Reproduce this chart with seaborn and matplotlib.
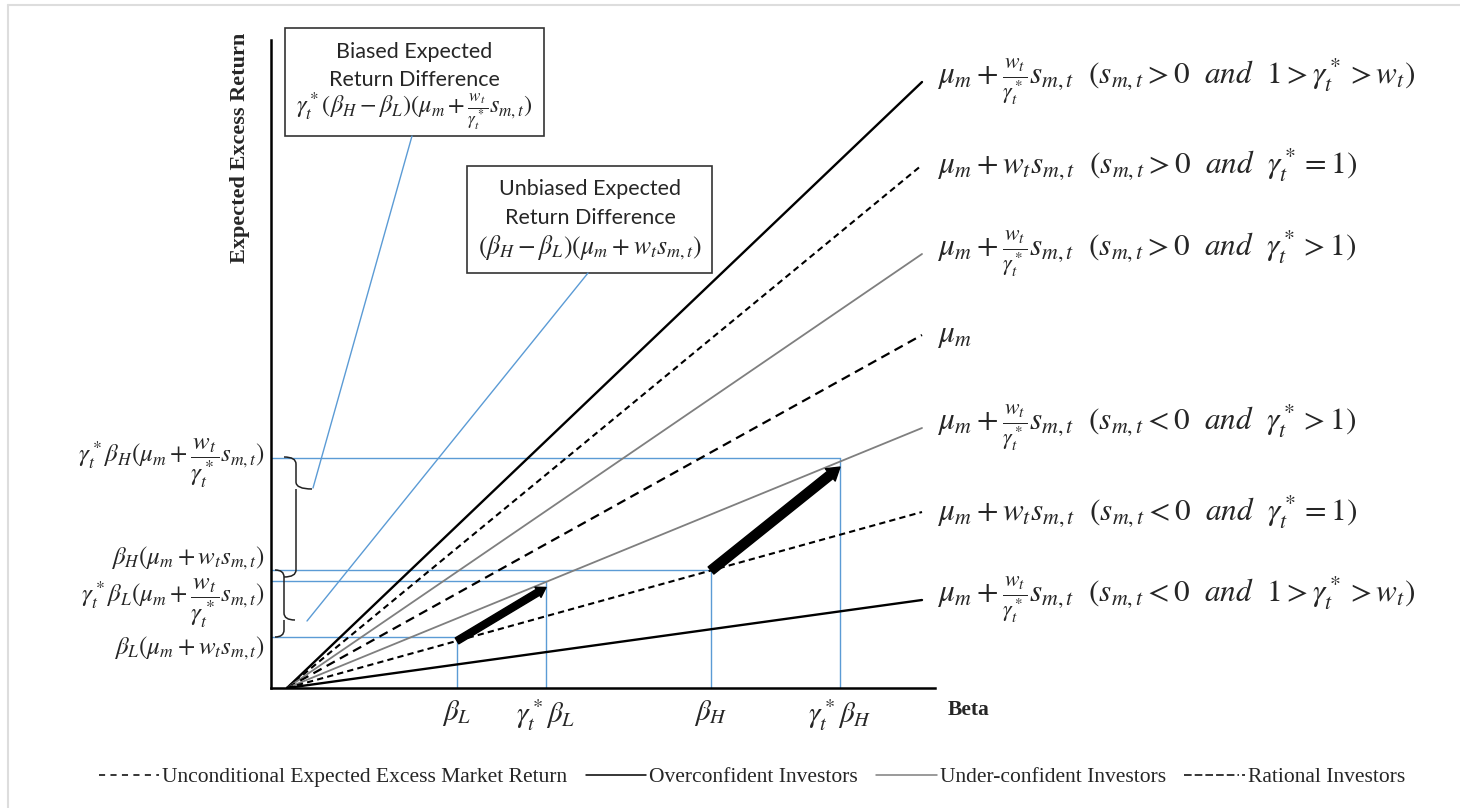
import numpy as np
import pandas as pd
import seaborn as sns
import matplotlib.pyplot as plt
from matplotlib.lines import Line2D
from matplotlib.patches import Rectangle, PathPatch
from matplotlib.path import Path

# === DATA (beta / return units) ===
line_names = ['over_pos', 'rat_pos', 'under_pos', 'mu', 'under_neg', 'rat_neg', 'over_neg']
line_kind = ['Overconfident', 'Rational', 'Under-confident', 'Unconditional',
             'Under-confident', 'Rational', 'Overconfident']
line_end = [6.06, 5.23, 4.34, 3.53, 2.60, 1.76, 0.88]
beta_end = 6.35

beta_names = ['bL', 'gbL', 'bH', 'gbH']
beta_vals = [1.70, 2.59, 4.24, 5.53]
beta_ticks = [r'$\beta_L$', r'$\gamma_t^*\beta_L$', r'$\beta_H$', r'$\gamma_t^*\beta_H$']
level_vals = [0.51, 1.07, 1.18, 2.30]   # return levels for bL, gbL, bH, gbH

right_labels = [
    r'$\mu_m+\frac{w_t}{\gamma_t^*}s_{m,t}\ \ (s_{m,t}>0\ \ and\ \ 1>\gamma_t^*>w_t)$',
    r'$\mu_m+w_t s_{m,t}\ \ (s_{m,t}>0\ \ and\ \ \gamma_t^*=1)$',
    r'$\mu_m+\frac{w_t}{\gamma_t^*}s_{m,t}\ \ (s_{m,t}>0\ \ and\ \ \gamma_t^*>1)$',
    r'$\mu_m$',
    r'$\mu_m+\frac{w_t}{\gamma_t^*}s_{m,t}\ \ (s_{m,t}<0\ \ and\ \ \gamma_t^*>1)$',
    r'$\mu_m+w_t s_{m,t}\ \ (s_{m,t}<0\ \ and\ \ \gamma_t^*=1)$',
    r'$\mu_m+\frac{w_t}{\gamma_t^*}s_{m,t}\ \ (s_{m,t}<0\ \ and\ \ 1>\gamma_t^*>w_t)$',
]
left_labels = [
    r'$\beta_L(\mu_m+w_t s_{m,t})$',
    r'$\gamma_t^*\beta_L(\mu_m+\dfrac{w_t}{\gamma_t^*}s_{m,t})$',
    r'$\beta_H(\mu_m+w_t s_{m,t})$',
    r'$\gamma_t^*\beta_H(\mu_m+\dfrac{w_t}{\gamma_t^*}s_{m,t})$',
]
left_label_y = [0.40, 0.85, 1.30, 2.25]

legend_kinds = ['Unconditional', 'Overconfident', 'Under-confident', 'Rational']
legend_labels = ['Unconditional Expected Excess Market Return', 'Overconfident Investors',
                 'Under-confident Investors', 'Rational Investors']

# === STYLE ===
sns.set_style('white')
plt.rcParams['font.family'] = ['Liberation Serif', 'DejaVu Serif']
plt.rcParams['mathtext.fontset'] = 'stix'

kind_color = {'Overconfident': 'black', 'Rational': 'black',
              'Under-confident': '#7f7f7f', 'Unconditional': 'black'}
kind_dash = {'Overconfident': '', 'Rational': (3, 2),
             'Under-confident': '', 'Unconditional': (4.2, 2.6)}
kind_lw = {'Overconfident': 1.7, 'Rational': 1.5,
           'Under-confident': 1.3, 'Unconditional': 1.6}
legend_ls = {'Overconfident': '-', 'Under-confident': '-',
             'Unconditional': (0, (4, 3.5)), 'Rational': (0, (5, 2, 5, 2, 5, 2, 5, 2, 5, 2, 1, 2))}
blue = '#5b9bd5'

rows = []
for name, end in zip(line_names, line_end):
    rows.append({'line': name, 'beta': 0.0, 'ret': 0.0})
    rows.append({'line': name, 'beta': beta_end, 'ret': end})
df = pd.DataFrame(rows)
kind_of = dict(zip(line_names, line_kind))

fig = plt.figure(figsize=(14.6, 8.08), dpi=100)
ax = fig.add_axes([271 / 1460, 120 / 808, 664 / 1460, 648 / 808])

sns.lineplot(data=df, x='beta', y='ret', hue='line', style='line', size='line',
             palette={n: kind_color[kind_of[n]] for n in line_names},
             dashes={n: kind_dash[kind_of[n]] for n in line_names},
             sizes={n: kind_lw[kind_of[n]] for n in line_names},
             estimator=None, sort=False, legend=False, ax=ax)

ax.set_xlim(-0.16, 6.48)
ax.set_ylim(0, 6.48)
sns.despine(ax=ax)
for s in ['left', 'bottom']:
    ax.spines[s].set_linewidth(1.8)
    ax.spines[s].set_color('black')
ax.set_xlabel('')
ax.set_ylabel('')
ax.set_yticks([])
ax.set_xticks(beta_vals)
ax.set_xticklabels(beta_ticks, fontsize=21)
ax.tick_params(axis='x', length=0, pad=7)

# guide lines
lev = dict(zip(beta_names, level_vals))
bet = dict(zip(beta_names, beta_vals))
for b in beta_names:
    ax.plot([-0.16, bet[b]], [lev[b], lev[b]], color=blue, lw=1.0, zorder=1)
    ax.plot([bet[b], bet[b]], [0, lev[b]], color=blue, lw=1.0, zorder=1)

# arrows from rational to under-confident (s<0)
slope = dict(zip(line_names, np.array(line_end) / beta_end))
for lo, hi, ms in [('bL', 'gbL', 9), ('bH', 'gbH', 12)]:
    start = (bet[lo], slope['rat_neg'] * bet[lo])
    end = (bet[hi], slope['under_neg'] * bet[hi] - 0.055)
    ax.annotate('', xy=end, xytext=start,
                arrowprops=dict(arrowstyle='simple,head_length=0.75,head_width=0.95,tail_width=0.55',
                                mutation_scale=ms, color='black', shrinkA=0, shrinkB=0))

# right labels
for end, lab in zip(line_end, right_labels):
    ax.text(6.50, end, lab, fontsize=22.5, ha='left', va='center', clip_on=False)

# left labels
for y, lab in zip(left_label_y, left_labels):
    ax.text(-0.22, y, lab, fontsize=18, ha='right', va='center', clip_on=False)


# curly braces
def brace(ax, x, y_top, y_tip, y_bot, hook, tip):
    r = 0.07
    verts = [(x - hook, y_top), (x, y_top), (x, y_top - r),
             (x, y_tip + r), (x, y_tip), (x + tip, y_tip),
             (x, y_tip), (x, y_tip - r),
             (x, y_bot + r), (x, y_bot), (x - hook, y_bot)]
    codes = [Path.MOVETO, Path.CURVE3, Path.CURVE3,
             Path.LINETO, Path.CURVE3, Path.CURVE3,
             Path.MOVETO, Path.LINETO,
             Path.LINETO, Path.CURVE3, Path.CURVE3]
    ax.add_patch(PathPatch(Path(verts, codes), fill=False, lw=1.1,
                           edgecolor='#222222', clip_on=False))


brace(ax, 0.09, lev['gbH'] + 0.01, 1.99, lev['gbL'] + 0.04, 0.12, 0.16)
brace(ax, -0.03, lev['bH'], 0.68, lev['bL'], 0.09, 0.11)

# annotation boxes
box_font = ['Lato', 'DejaVu Sans']
ax.add_patch(Rectangle((-0.02, 5.52), 2.59, 1.08, fill=False, lw=1.2,
                       edgecolor='#333333', clip_on=False))
ax.text(1.27, 6.36, 'Biased Expected', family=box_font, fontsize=15.5,
        ha='center', va='center', clip_on=False)
ax.text(1.27, 6.08, 'Return Difference', family=box_font, fontsize=15.5,
        ha='center', va='center', clip_on=False)
ax.text(1.27, 5.76,
        r'$\gamma_t^*(\beta_H-\beta_L)(\mu_m+\frac{w_t}{\gamma_t^*}s_{m,t})$',
        fontsize=17.5, ha='center', va='center', clip_on=False)
ax.add_patch(Rectangle((1.80, 4.15), 2.45, 1.07, fill=False, lw=1.2,
                       edgecolor='#333333', clip_on=False))
ax.text(3.03, 4.99, 'Unbiased Expected', family=box_font, fontsize=15.5,
        ha='center', va='center', clip_on=False)
ax.text(3.03, 4.70, 'Return Difference', family=box_font, fontsize=15.5,
        ha='center', va='center', clip_on=False)
ax.text(3.03, 4.40, r'$(\beta_H-\beta_L)(\mu_m+w_t s_{m,t})$',
        fontsize=18.5, ha='center', va='center', clip_on=False)

# leader lines
ax.plot([1.25, 0.26], [5.52, 2.00], color=blue, lw=1.0, clip_on=False)
ax.plot([3.01, 0.20], [4.15, 0.67], color=blue, lw=1.0, clip_on=False)

# axis titles
ax.text(-0.47, 5.40, 'Expected Excess Return', rotation=90, fontsize=16,
        fontweight='bold', ha='center', va='center', clip_on=False)
ax.text(6.82, -0.22, 'Beta', fontsize=15.5, fontweight='bold',
        ha='center', va='center', clip_on=False)

# legend
handles = [Line2D([], [], color=kind_color[k], lw=1.1, linestyle=legend_ls[k])
           for k in legend_kinds]
fig.legend(handles, legend_labels, loc='center', bbox_to_anchor=(752 / 1460, 31 / 808),
           ncol=4, frameon=False, handlelength=2.8, handletextpad=0.15,
           columnspacing=0.85, prop={'family': 'Liberation Serif', 'size': 15.5})

# outer frame (left and top)
fig.add_artist(Line2D([8 / 1460, 8 / 1460], [0, 1 - 5 / 808], transform=fig.transFigure,
                      color='#dddddd', lw=1.5))
fig.add_artist(Line2D([8 / 1460, 1], [1 - 5 / 808, 1 - 5 / 808], transform=fig.transFigure,
                      color='#dddddd', lw=1.5))

fig.savefig('out.png', dpi=100)
